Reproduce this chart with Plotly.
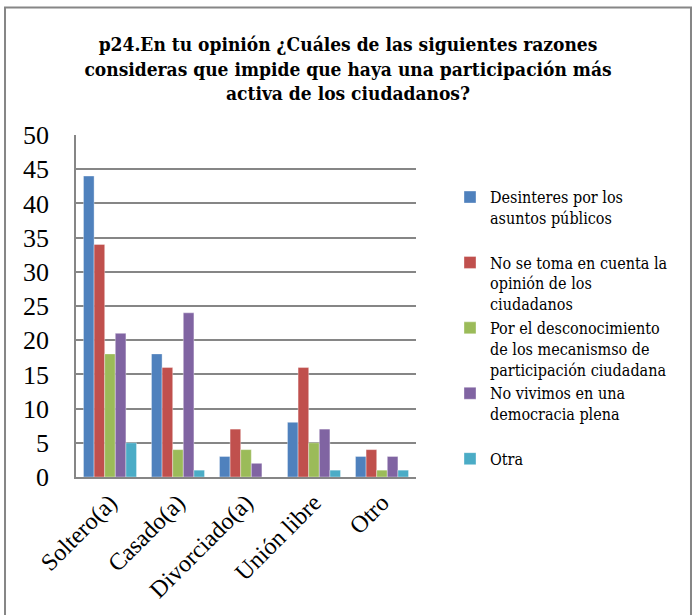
import plotly.graph_objs as go

# Datos
categorias = ["Soltero(a)", "Casado(a)", "Divorciado(a)", "Unión libre", "Otro"]
desinteres = [44, 18, 3, 8, 3]
no_toma_en_cuenta = [34, 16, 7, 16, 4]
desconocimiento = [18, 4, 4, 5, 1]
no_democracia = [21, 24, 2, 7, 3]
otra = [5, 1, 0, 1, 1]

series = [
    ("Desinteres por los<br>asuntos públicos<br> ", desinteres, "#4F81BD"),
    ("No se toma en cuenta la<br>opinión de los<br>ciudadanos", no_toma_en_cuenta, "#C0504D"),
    ("Por el desconocimiento<br>de los mecanismso de<br>participación ciudadana", desconocimiento, "#9BBB59"),
    ("No vivimos en una<br>democracia plena<br> ", no_democracia, "#8064A2"),
    ("Otra", otra, "#4BACC6"),
]

TITLE_FONT = "DejaVu Serif Condensed"
SERIF = "Liberation Serif"

fig = go.Figure()
for i, (name, vals, color) in enumerate(series):
    fig.add_trace(go.Bar(x=categorias, y=vals, name=name, marker_color=color,
                         marker_line=dict(color="rgba(255,255,255,0.6)", width=0.6),
                         legendgroup=str(i)))

fig.update_layout(
    width=696, height=615,
    margin=dict(l=76, r=280, t=135, b=134),
    paper_bgcolor="white", plot_bgcolor="white",
    barmode="group", bargap=0.22, bargroupgap=0,
    title=dict(text="p24.En tu opinión ¿Cuáles de las siguientes razones<br>consideras que impide que haya una participación más<br>activa de los ciudadanos?",
               x=0.5, xanchor="center", y=0.917, yanchor="middle",
               font=dict(family=TITLE_FONT, size=19, color="black", weight="bold")),
    font=dict(family=SERIF, color="black"),
    showlegend=True,
    legend=dict(x=1.1, xanchor="left", y=0.868, yanchor="top",
                font=dict(family=TITLE_FONT, size=16, color="black"),
                valign="top", tracegroupgap=0, itemwidth=30,
                bgcolor="rgba(0,0,0,0)"),
)

fig.update_yaxes(range=[0, 50], dtick=5, showgrid=True, gridcolor="#868686", gridwidth=1.5,
                 showline=True, linecolor="#868686", linewidth=1.5,
                 tickfont=dict(family=SERIF, size=26), ticklabelstandoff=20, zeroline=False)
fig.update_xaxes(showline=True, linecolor="#868686", linewidth=2, tickangle=-45,
                 tickfont=dict(family=SERIF, size=24), mirror=False)

# marco del gráfico
fig.add_shape(type="rect", xref="paper", yref="paper",
              x0=-0.2088, x1=1.8088, y0=-0.45, y1=1.3728,
              line=dict(color="#868686", width=2), fillcolor="rgba(0,0,0,0)", layer="below")

# sin margen del body para que la figura empiece en (0, 0)
fig.write_html("out.html", config={"displayModeBar": False},
               post_script="document.body.style.margin='0';")
